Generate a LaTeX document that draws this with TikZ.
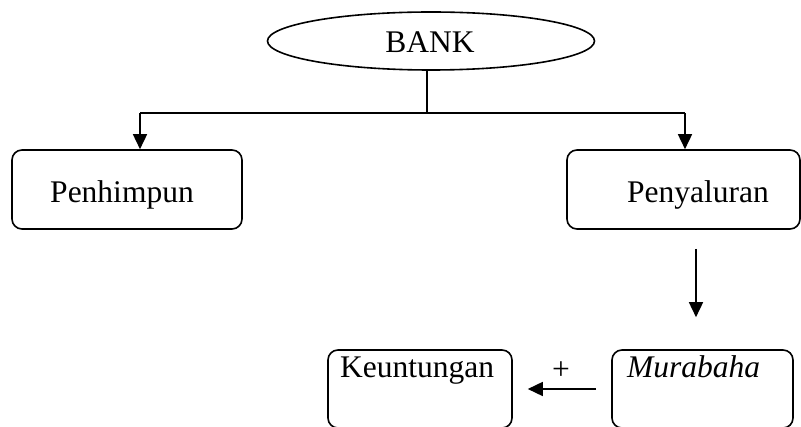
\documentclass[tikz,border=0pt]{standalone}
\usepackage{fontspec}
\setmainfont{Liberation Serif}
\usetikzlibrary{arrows.meta,shapes.geometric,calc}
\begin{document}
\begin{tikzpicture}[x=1pt,y=-1pt,
  txt/.style={font=\fontsize{31.5}{38}\selectfont,inner sep=0pt},
  line/.style={line width=1.6pt},
  arr/.style={line width=1.6pt,-{Triangle[width=14pt,length=15pt]}},
  rbox/.style={draw,line width=1.6pt,rounded corners=10pt,inner sep=0pt},
  oval/.style={draw,ellipse,line width=1.6pt,inner sep=0pt}]
\useasboundingbox (0,0) rectangle (801,427);
\clip (0,0) rectangle (801,427);
% shapes
\node[oval,minimum width=327pt,minimum height=58pt] (bank) at (431,41) {};
\node[txt,anchor=base] (bankt) at (430,53) {BANK};
\node[rbox,minimum width=230pt,minimum height=79pt] (pen) at (127,189.5) {};
\node[txt,anchor=base] (pent) at (122,203) {Penhimpun};
\node[rbox,minimum width=233pt,minimum height=79pt] (pyl) at (683.5,189.5) {};
\node[txt,anchor=base] (pylt) at (698,203) {Penyaluran};
\node[rbox,minimum width=184pt,minimum height=78pt] (keu) at (420,389) {};
\node[txt,anchor=base west] (keut) at (340,378) {Keuntungan};
\node[rbox,minimum width=181pt,minimum height=78pt] (mur) at (702.5,389) {};
\node[txt,anchor=base west] (murt) at (627,378) {\itshape Murabaha};
% connectors
\coordinate (j) at (427,113);
\coordinate (jl) at (140,113);
\coordinate (jr) at (685,113);
\coordinate (d) at (696,0);
\draw[line] (bank.south -| j) -- (j);
\draw[line] (jl) -- (jr);
\draw[arr] (jl) -- (jl |- pen.north);
\draw[arr] (jr) -- (jr |- pyl.north);
\draw[arr] ($(d |- pyl.south)+(0,19)$) -- ($(d |- mur.north)+(0,-32)$);
\draw[arr] ($(mur.west)+(-15,0)$) -- ($(keu.east)+(15,0)$);
\node[txt,anchor=base] (plus) at (561,380) {+};
\end{tikzpicture}
\end{document}
